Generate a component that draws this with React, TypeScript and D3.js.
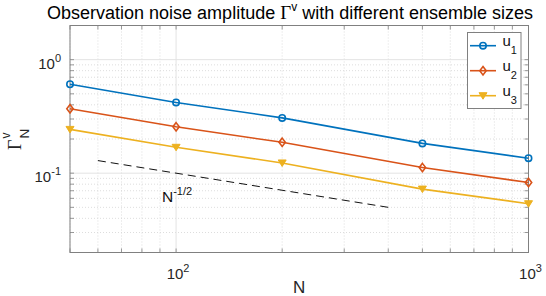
import React from "react";
import * as d3 from "d3";

const ensembleSizes = [50, 100, 200, 500, 1000];
const u1 = [0.607, 0.42, 0.307, 0.183, 0.1355];
const u2 = [0.369, 0.256, 0.187, 0.112, 0.0828];
const u3 = [0.243, 0.169, 0.123, 0.0724, 0.0538];
const refN = [60, 400];
const xMajor = [100, 1000];
const xMajorExp = ["2", "3"];
const yMajor = [1, 0.1];
const yMajorExp = ["0", "-1"];
const xMinor = [50, 60, 70, 80, 90, 200, 300, 400, 500, 600, 700, 800, 900];
const yMinor = [0.02, 0.03, 0.04, 0.05, 0.06, 0.07, 0.08, 0.09, 0.2, 0.3, 0.4, 0.5, 0.6, 0.7, 0.8, 0.9, 2];

const series = [
  { name: "1", values: u1, color: "#0072BD", marker: "circle" },
  { name: "2", values: u2, color: "#D95319", marker: "diamond" },
  { name: "3", values: u3, color: "#EDB120", marker: "triangle" },
];

const L = 70, R = 528.5, T = 25.5, B = 252.5;
const FONT = "'Liberation Sans', Arial, Helvetica, sans-serif";
const SERIF = "'Liberation Serif', 'DejaVu Serif', serif";

function Marker({ type, x, y, color }: { type: string; x: number; y: number; color: string }) {
  if (type === "circle") return <circle cx={x} cy={y} r={3.2} fill="none" stroke={color} strokeWidth={1.6} />;
  if (type === "diamond")
    return <path d={`M${x},${y - 4.2}L${x + 3.2},${y}L${x},${y + 4.2}L${x - 3.2},${y}Z`} fill="none" stroke={color} strokeWidth={1.6} />;
  return <path d={`M${x - 4},${y - 3}L${x + 4},${y - 3}L${x},${y + 3.5}Z`} fill={color} stroke={color} strokeWidth={1} />;
}

export default function App() {
  const x = d3.scaleLog().domain([50, 1000]).range([L, R]);
  const y = d3.scaleLog().domain([0.02, 2]).range([B, T]);
  const line = d3.line<number>().x((_, i) => x(ensembleSizes[i])).y((d) => y(d));
  const refLine = d3.line<number>().x((d) => x(d)).y((d) => y(1 / Math.sqrt(d)));
  const tick = 4;

  return (
    <svg width={546} height={296} style={{ position: "absolute", left: 0, top: 0, background: "#fff" }} fontFamily={FONT}>
      <rect x={0} y={0} width={546} height={296} fill="#fff" />
      {/* minor grid */}
      {xMinor.map((v) => (
        <line key={"xm" + v} x1={x(v)} x2={x(v)} y1={T} y2={B} stroke="#d4d4d4" strokeWidth={0.8} strokeDasharray="1,2" />
      ))}
      {yMinor.map((v) => (
        <line key={"ym" + v} x1={L} x2={R} y1={y(v)} y2={y(v)} stroke="#d4d4d4" strokeWidth={0.8} strokeDasharray="1,2" />
      ))}
      {/* major grid */}
      {xMajor.map((v) => (
        <line key={"xg" + v} x1={x(v)} x2={x(v)} y1={T} y2={B} stroke="#e3e3e3" strokeWidth={1} />
      ))}
      {yMajor.map((v) => (
        <line key={"yg" + v} x1={L} x2={R} y1={y(v)} y2={y(v)} stroke="#e3e3e3" strokeWidth={1} />
      ))}
      {/* ticks */}
      {[...xMinor, ...xMajor].map((v) => (
        <g key={"xt" + v} stroke="#808080" strokeWidth={0.8}>
          <line x1={x(v)} x2={x(v)} y1={B} y2={B - tick} />
          <line x1={x(v)} x2={x(v)} y1={T} y2={T + tick} />
        </g>
      ))}
      {[...yMinor, ...yMajor].map((v) => (
        <g key={"yt" + v} stroke="#808080" strokeWidth={0.8}>
          <line x1={L} x2={L + tick} y1={y(v)} y2={y(v)} />
          <line x1={R} x2={R - tick} y1={y(v)} y2={y(v)} />
        </g>
      ))}
      <rect x={L} y={T} width={R - L} height={B - T} fill="none" stroke="#808080" strokeWidth={1} />
      {/* tick labels */}
      {xMajor.map((v, i) => (
        <text key={"xl" + v} x={x(v) + 2} y={279} textAnchor="middle" fontSize={15} fill="#262626">
          10<tspan dy={-7} fontSize={11}>{xMajorExp[i]}</tspan>
        </text>
      ))}
      {yMajor.map((v, i) => (
        <text key={"yl" + v} x={L - 9} y={y(v) + 9} textAnchor="end" fontSize={15} fill="#262626">
          10<tspan dy={-7} fontSize={11}>{yMajorExp[i]}</tspan>
        </text>
      ))}
      {/* reference dashed line */}
      <path d={refLine(refN) || ""} fill="none" stroke="#111" strokeWidth={1} strokeDasharray="8,5" />
      <text x={162} y={201.5} fontSize={15.5} fill="#111">
        N<tspan dy={-7} fontSize={11}>-1/2</tspan>
      </text>
      {/* series */}
      {series.map((s) => (
        <g key={s.name}>
          <path d={line(s.values) || ""} fill="none" stroke={s.color} strokeWidth={1.6} />
          {s.values.map((v, i) => (
            <Marker key={i} type={s.marker} x={x(ensembleSizes[i])} y={y(v)} color={s.color} />
          ))}
        </g>
      ))}
      {/* legend */}
      <rect x={467.5} y={32.5} width={53.5} height={76} fill="#fff" stroke="#808080" strokeWidth={1} />
      {series.map((s, i) => {
        const ly = 45.7 + i * 25;
        return (
          <g key={"lg" + s.name}>
            <line x1={470} x2={496} y1={ly} y2={ly} stroke={s.color} strokeWidth={1.6} />
            <Marker type={s.marker} x={483} y={ly} color={s.color} />
            <text x={502.5} y={ly + 0.5} fontSize={15} fill="#111">
              u<tspan dy={8} fontSize={11}>{s.name}</tspan>
            </text>
          </g>
        );
      })}
      {/* title */}
      <text x={290} y={19} textAnchor="middle" fontSize={18} fill="#000">
        Observation noise amplitude <tspan fontFamily={SERIF} fontSize={19}>Γ</tspan>
        <tspan dy={-8} fontSize={12}>v</tspan>
        <tspan dy={8}> with different ensemble sizes</tspan>
      </text>
      {/* x label */}
      <text x={(L + R) / 2} y={292.5} textAnchor="middle" fontSize={17} fill="#262626">
        N
      </text>
      {/* y label */}
      <g transform="translate(21,150) rotate(-90)">
        <text x={0} y={0} fontFamily={SERIF} fontSize={18} fill="#262626">Γ</text>
        <text x={11.5} y={-11} fontSize={12} fill="#262626">v</text>
        <text x={11.5} y={8} fontSize={13.5} fill="#262626">N</text>
      </g>
    </svg>
  );
}
